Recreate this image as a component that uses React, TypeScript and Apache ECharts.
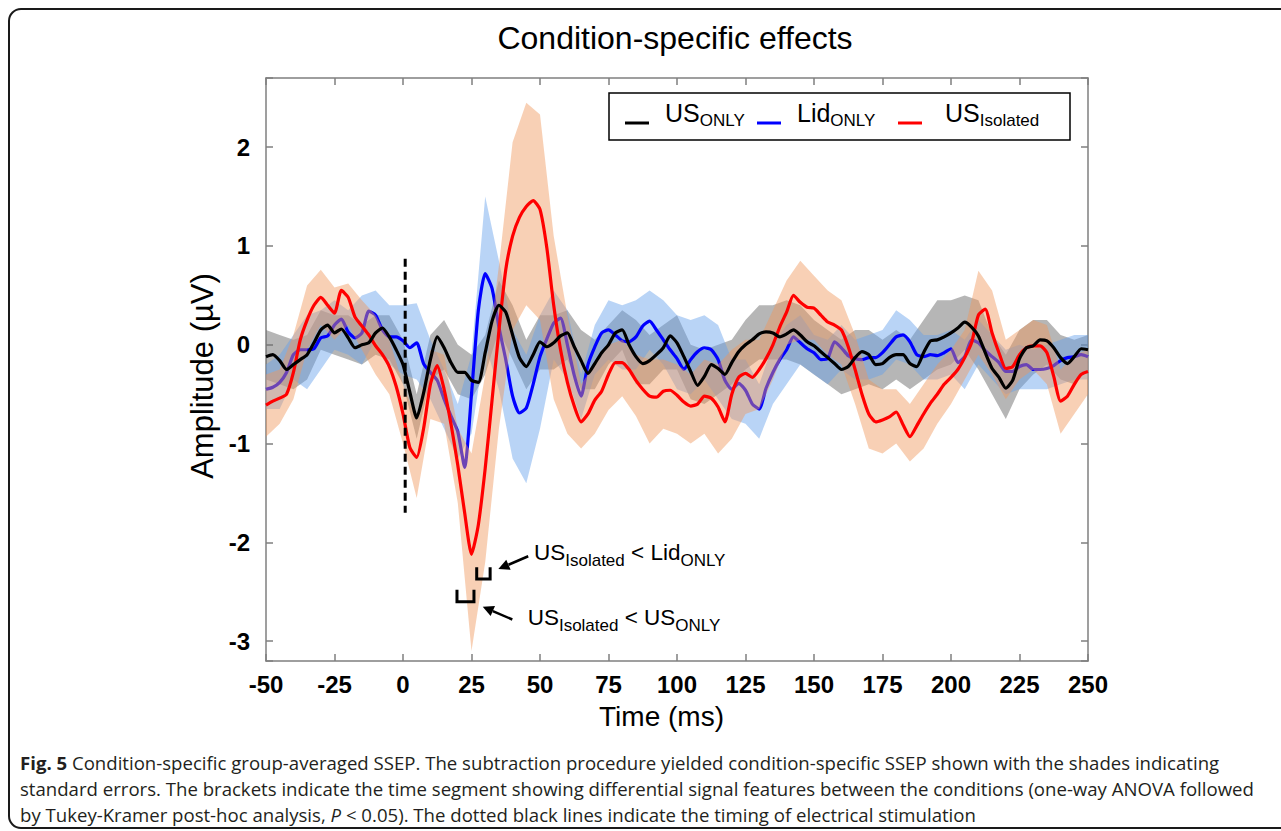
import React, { useEffect, useRef } from 'react';
import * as echarts from 'echarts';

const FONT = "'Liberation Sans', Arial, Helvetica, sans-serif";
const CAPTION_FONT = "'Open Sans', 'Noto Sans', sans-serif";
const AXIS_COLOR = '#7f7f7f';

// sampling grids (ms)
const times: number[] = Array.from({ length: 121 }, (_, i) => -50 + i * 2.5);
const bandTimes: number[] = Array.from({ length: 61 }, (_, i) => -50 + i * 5);

// group means (µV), one value per 2.5 ms
const usOnly = [
  -0.12, -0.10, -0.16, -0.25, -0.20, -0.15, -0.10, 0.02, 0.15, 0.20,
  0.12, 0.16, 0.07, -0.03, 0.00, 0.02, 0.12, 0.17, 0.08, -0.05,
  -0.20, -0.48, -0.74, -0.49, -0.15, 0.08, -0.03, -0.18, -0.28, -0.28,
  -0.36, -0.38, -0.08, 0.24, 0.40, 0.33, 0.10, -0.13, -0.22, -0.10,
  0.03, -0.02, 0.02, 0.09, 0.12, -0.02, -0.16, -0.29, -0.19, -0.08,
  0.00, 0.12, 0.15, 0.00, -0.12, -0.19, -0.16, -0.10, -0.03, 0.09,
  0.02, -0.12, -0.27, -0.41, -0.32, -0.20, -0.24, -0.30, -0.18, -0.07,
  0.00, 0.05, 0.11, 0.13, 0.12, 0.08, 0.11, 0.15, 0.10, 0.03,
  -0.01, -0.07, -0.13, -0.19, -0.25, -0.22, -0.13, -0.07, -0.10, -0.20,
  -0.19, -0.13, -0.10, -0.10, -0.19, -0.22, -0.08, 0.04, 0.05, 0.08,
  0.12, 0.17, 0.23, 0.18, 0.09, -0.08, -0.24, -0.33, -0.44, -0.36,
  -0.14, -0.03, -0.01, 0.05, 0.04, -0.03, -0.13, -0.19, -0.12, -0.04,
  -0.05,
];
const lidOnly = [
  -0.45, -0.43, -0.38, -0.28, -0.10, -0.05, -0.05, -0.04, 0.07, 0.09,
  0.20, 0.26, 0.13, 0.07, 0.12, 0.34, 0.30, 0.15, 0.08, 0.08,
  0.04, -0.03, 0.02, -0.19, -0.28, -0.36, -0.55, -0.72, -0.88, -1.24,
  -0.50, 0.35, 0.72, 0.57, 0.18, -0.15, -0.52, -0.69, -0.64, -0.40,
  -0.12, 0.06, 0.22, 0.27, 0.00, -0.31, -0.52, -0.20, -0.02, 0.12,
  0.15, 0.10, 0.04, 0.03, 0.08, 0.19, 0.24, 0.15, 0.05, -0.05,
  -0.14, -0.25, -0.15, -0.07, -0.03, -0.05, -0.15, -0.36, -0.45, -0.39,
  -0.46, -0.60, -0.65, -0.44, -0.28, -0.15, -0.05, 0.08, 0.02, -0.04,
  -0.08, -0.15, -0.14, 0.03, -0.03, -0.11, -0.14, -0.15, -0.13, -0.13,
  -0.08, 0.00, 0.08, 0.10, 0.03, -0.10, -0.12, -0.10, -0.11, -0.08,
  -0.04, -0.18, -0.12, 0.05, 0.02, -0.06, -0.12, -0.18, -0.27, -0.27,
  -0.22, -0.20, -0.25, -0.25, -0.24, -0.21, -0.16, -0.13, -0.12, -0.10,
  -0.12,
];
const usIsolated = [
  -0.61, -0.57, -0.54, -0.50, -0.28, 0.05, 0.25, 0.40, 0.48, 0.40,
  0.32, 0.55, 0.48, 0.28, 0.19, 0.10, -0.01, -0.10, -0.22, -0.42,
  -0.70, -1.04, -1.14, -0.85, -0.40, -0.21, -0.45, -0.80, -1.22, -1.70,
  -2.12, -1.82, -1.25, -0.56, 0.14, 0.76, 1.10, 1.29, 1.40, 1.46,
  1.37, 0.98, 0.40, -0.05, -0.38, -0.62, -0.78, -0.70, -0.56, -0.47,
  -0.30, -0.18, -0.18, -0.25, -0.36, -0.45, -0.52, -0.53, -0.47, -0.46,
  -0.51, -0.58, -0.62, -0.60, -0.52, -0.54, -0.63, -0.78, -0.50, -0.33,
  -0.29, -0.33, -0.25, -0.14, 0.00, 0.18, 0.33, 0.50, 0.43, 0.38,
  0.37, 0.30, 0.23, 0.20, 0.15, -0.02, -0.25, -0.50, -0.70, -0.78,
  -0.76, -0.73, -0.68, -0.81, -0.93, -0.82, -0.70, -0.59, -0.50, -0.40,
  -0.33, -0.25, -0.13, 0.02, 0.30, 0.36, 0.12, -0.08, -0.24, -0.22,
  -0.10, -0.03, -0.01, -0.01, -0.08, -0.32, -0.57, -0.52, -0.40, -0.30,
  -0.27,
];

// standard-error envelopes, one value per 5 ms
const usOnlyUpper = [
  0.15, 0.10, 0.05, 0.10, 0.35, 0.30, 0.30, 0.20, 0.30, 0.30,
  0.05, -0.50, 0.10, 0.25, 0.00, -0.10, 0.10, 0.65, 0.40, 0.05,
  0.30, 0.30, 0.35, 0.15, 0.05, 0.20, 0.35, 0.25, 0.10, 0.20,
  0.30, 0.00, -0.05, 0.00, 0.05, 0.25, 0.40, 0.40, 0.45, 0.40,
  0.25, 0.15, 0.05, 0.15, 0.15, 0.05, 0.15, 0.05, 0.25, 0.45,
  0.45, 0.50, 0.45, 0.10, -0.10, 0.15, 0.25, 0.25, 0.10, 0.05,
  0.10,
];
const usOnlyLower = [
  -0.35, -0.40, -0.45, -0.35, -0.05, -0.10, -0.15, -0.20, -0.10, -0.15,
  -0.40, -0.95, -0.35, -0.25, -0.50, -0.55, -0.30, 0.15, -0.15, -0.45,
  -0.25, -0.25, -0.15, -0.45, -0.45, -0.20, -0.05, -0.40, -0.40, -0.25,
  -0.25, -0.55, -0.60, -0.50, -0.40, -0.25, -0.15, -0.15, -0.15, -0.20,
  -0.30, -0.40, -0.50, -0.45, -0.40, -0.45, -0.35, -0.45, -0.35, -0.25,
  -0.20, -0.05, -0.25, -0.50, -0.75, -0.45, -0.30, -0.20, -0.35, -0.40,
  -0.25,
];
const lidOnlyUpper = [
  -0.20, -0.10, 0.10, 0.30, 0.35, 0.45, 0.35, 0.50, 0.55, 0.40,
  0.40, 0.42, 0.05, -0.25, -0.60, -0.10, 1.50, 0.85, 0.15, -0.10,
  0.30, 0.55, 0.35, -0.30, 0.20, 0.45, 0.40, 0.45, 0.55, 0.45,
  0.30, 0.25, 0.30, 0.20, -0.15, -0.15, -0.40, 0.00, 0.20, 0.30,
  0.10, 0.05, 0.20, 0.05, 0.10, 0.15, 0.35, 0.25, 0.10, 0.10,
  0.15, 0.05, 0.25, 0.10, -0.05, 0.00, -0.05, 0.00, 0.05, 0.10,
  0.10,
];
const lidOnlyLower = [
  -0.65, -0.65, -0.35, -0.45, -0.25, -0.05, -0.10, -0.20, 0.05, -0.20,
  -0.30, -0.35, -0.55, -0.85, -1.15, -0.90, 0.00, -0.45, -1.15, -1.40,
  -0.85, -0.15, -0.35, -0.75, -0.30, -0.15, -0.25, -0.25, -0.05, -0.20,
  -0.45, -0.50, -0.35, -0.55, -0.75, -0.80, -0.95, -0.60, -0.40, -0.20,
  -0.30, -0.40, -0.25, -0.35, -0.35, -0.30, -0.15, -0.20, -0.35, -0.35,
  -0.30, -0.45, -0.20, -0.35, -0.50, -0.45, -0.45, -0.45, -0.40, -0.35,
  -0.35,
];
const usIsolatedUpper = [
  -0.30, -0.25, 0.10, 0.60, 0.76, 0.58, 0.62, 0.45, 0.30, 0.05,
  -0.40, -0.75, -0.05, -0.10, -0.85, -1.10, -0.30, 0.80, 2.05, 2.45,
  2.33, 1.10, 0.30, -0.40, -0.20, 0.00, 0.05, -0.10, -0.15, -0.15,
  -0.20, -0.30, -0.15, -0.20, -0.05, 0.05, 0.05, 0.35, 0.65, 0.85,
  0.70, 0.55, 0.45, 0.10, -0.35, -0.45, -0.45, -0.60, -0.40, -0.20,
  -0.05, 0.15, 0.75, 0.55, 0.05, 0.15, 0.25, 0.20, -0.25, -0.10,
  -0.05,
];
const usIsolatedLower = [
  -0.93, -0.80, -0.55, -0.05, 0.20, 0.05, 0.20, -0.05, -0.30, -0.50,
  -1.00, -1.55, -0.75, -0.80, -1.60, -3.10, -2.20, -0.85, 0.15, 0.40,
  0.25, -0.55, -0.90, -1.05, -0.90, -0.66, -0.52, -0.72, -1.00, -0.85,
  -0.90, -1.00, -0.90, -1.10, -0.95, -0.70, -0.65, -0.35, 0.00, 0.05,
  0.05, -0.10, -0.20, -0.60, -1.05, -1.10, -1.00, -1.18, -1.05, -0.80,
  -0.60, -0.35, -0.10, -0.30, -0.55, -0.35, -0.25, -0.40, -0.90, -0.70,
  -0.50,
];

// stimulation marker
const stimTime = 0.8;
const stimTop = 0.87;
const stimBottom = -1.7;

// significance brackets (ms, µV)
const bracketStart = [26.9, 19.7];
const bracketEnd = [31.8, 25.9];
const bracketLow = [-2.37, -2.6];
const bracketHigh = [-2.25, -2.48];

// annotation arrows and labels (data coordinates)
const arrowTail = [[45.7, -2.14], [39.9, -2.78]];
const arrowTip = [[34.8, -2.27], [29.1, -2.65]];
const annotationAnchor = [[47.8, -2.099], [45.5, -2.758]];
const annotationText = [
  '{m|US}{s|Isolated}{m| < Lid}{s|ONLY}',
  '{m|US}{s|Isolated}{m| < US}{s|ONLY}',
];

// legend
const legendMain = ['US', 'Lid', 'US'];
const legendSub = ['ONLY', 'ONLY', 'Isolated'];
const seriesColors = ['#000000', '#0000ff', '#ff0000'];

const captionLines = [
  '{b|Fig. 5} Condition-specific group-averaged SSEP. The subtraction procedure yielded condition-specific SSEP shown with the shades indicating',
  'standard errors. The brackets indicate the time segment showing differential signal features between the conditions (one-way ANOVA followed',
  'by Tukey-Kramer post-hoc analysis, {i|P} < 0.05). The dotted black lines indicate the timing of electrical stimulation',
];

const zip = (xs: number[], ys: number[]) => xs.map((x, i) => [x, ys[i]]);

const makeBand = (upper: number[], lower: number[], fill: string) => (_params: any, api: any) => {
  const pts: number[][] = [];
  for (let i = 0; i < bandTimes.length; i++) pts.push(api.coord([bandTimes[i], upper[i]]));
  for (let i = bandTimes.length - 1; i >= 0; i--) pts.push(api.coord([bandTimes[i], lower[i]]));
  return { type: 'polygon', shape: { points: pts }, style: { fill } };
};

const richMain = (size: number) => ({ fontSize: size, fontFamily: FONT, fill: '#000' });

export default function App() {
  const ref = useRef<HTMLDivElement>(null);

  useEffect(() => {
    document.body.style.margin = '0';
    if (!ref.current) return;
    const chart = echarts.init(ref.current, undefined, { renderer: 'svg' });

    const axisLine = { show: true, onZero: false, lineStyle: { color: AXIS_COLOR, width: 1.5 } };
    const axisTick = { show: true, inside: true, length: 7, lineStyle: { color: AXIS_COLOR, width: 1.5 } };
    const tickLabel = { color: '#000', fontSize: 24, fontWeight: 'bold', fontFamily: FONT };
    const capSize = 18.6;
    const lineWidth = 3.2;

    const legendChildren: any[] = [
      {
        type: 'rect',
        shape: { x: 609, y: 93, width: 461, height: 47 },
        style: { fill: '#fff', stroke: '#000', lineWidth: 1.5 },
      },
    ];
    const legendLineX = [625, 757, 898];
    const legendTextX = [665, 797, 945];
    for (let i = 0; i < 3; i++) {
      legendChildren.push({
        type: 'line',
        shape: { x1: legendLineX[i], y1: 123, x2: legendLineX[i] + 24, y2: 123 },
        style: { stroke: seriesColors[i], lineWidth: 3 },
      });
      legendChildren.push({
        type: 'text',
        x: legendTextX[i],
        y: 113,
        style: {
          text: `{m|${legendMain[i]}}{s|${legendSub[i]}}`,
          align: 'left',
          verticalAlign: 'middle',
          rich: {
            m: richMain(25),
            s: { ...richMain(17), padding: [15.6, 0, 0, 0] },
          },
        },
      });
    }

    const option: any = {
      animation: false,
      backgroundColor: '#ffffff',
      grid: { left: 266, right: 193, top: 78, bottom: 170, containLabel: false },
      xAxis: [
        {
          type: 'value', min: -50, max: 250, interval: 25, position: 'bottom',
          name: 'Time (ms)', nameLocation: 'middle', nameGap: 41,
          nameTextStyle: { fontSize: 28, fontFamily: FONT, color: '#000', padding: [0, 31, 0, 0] },
          axisLine, axisTick,
          axisLabel: { ...tickLabel, margin: 11 },
          splitLine: { show: false },
        },
        {
          type: 'value', min: -50, max: 250, interval: 25, position: 'top',
          axisLine, axisTick, axisLabel: { show: false }, splitLine: { show: false },
        },
      ],
      yAxis: [
        {
          type: 'value', min: -3.2, max: 2.7, position: 'left',
          name: 'Amplitude (µV)', nameLocation: 'middle', nameGap: 33, nameRotate: 90,
          nameTextStyle: { fontSize: 31, fontFamily: FONT, color: '#000', padding: [0, 13, 0, 0] },
          axisLine, axisTick,
          axisLabel: {
            ...tickLabel, margin: 16,
            formatter: (v: number) => (Math.abs(v - Math.round(v)) < 1e-6 ? String(Math.round(v)) : ''),
          },
          splitLine: { show: false },
        },
        {
          type: 'value', min: -3.2, max: 2.7, position: 'right',
          axisLine, axisTick, axisLabel: { show: false }, splitLine: { show: false },
        },
      ],
      series: [
        {
          name: 'US_ONLY SE', type: 'custom', z: 1, silent: true, clip: true,
          renderItem: makeBand(usOnlyUpper, usOnlyLower, 'rgba(110,110,110,0.5)'),
          data: [[-50, 0]],
        },
        {
          name: 'Lid_ONLY SE', type: 'custom', z: 2, silent: true, clip: true,
          renderItem: makeBand(lidOnlyUpper, lidOnlyLower, 'rgba(100,160,235,0.45)'),
          data: [[-50, 0]],
        },
        {
          name: 'Lid_ONLY', type: 'line', z: 3, symbol: 'none', smooth: 0.2,
          data: zip(times, lidOnly), lineStyle: { color: seriesColors[1], width: lineWidth },
          itemStyle: { color: seriesColors[1] },
        },
        {
          name: 'US_Isolated SE', type: 'custom', z: 4, silent: true, clip: true,
          renderItem: makeBand(usIsolatedUpper, usIsolatedLower, 'rgba(240,150,90,0.45)'),
          data: [[-50, 0]],
        },
        {
          name: 'US_Isolated', type: 'line', z: 5, symbol: 'none', smooth: 0.2,
          data: zip(times, usIsolated), lineStyle: { color: seriesColors[2], width: lineWidth },
          itemStyle: { color: seriesColors[2] },
        },
        {
          name: 'US_ONLY', type: 'line', z: 6, symbol: 'none', smooth: 0.2,
          data: zip(times, usOnly), lineStyle: { color: seriesColors[0], width: lineWidth },
          itemStyle: { color: seriesColors[0] },
        },
        {
          name: 'Stimulation', type: 'line', z: 7, symbol: 'none',
          data: [[stimTime, stimTop], [stimTime, stimBottom]],
          lineStyle: { color: '#000', width: 3, type: [8, 5] },
        },
        {
          name: 'Brackets', type: 'custom', z: 8, silent: true,
          data: bracketStart.map((s, i) => [s, bracketLow[i], bracketEnd[i], bracketHigh[i]]),
          renderItem: (_p: any, api: any) => {
            const x1 = api.value(0), lo = api.value(1), x2 = api.value(2), hi = api.value(3);
            return {
              type: 'polyline',
              shape: { points: [api.coord([x1, hi]), api.coord([x1, lo]), api.coord([x2, lo]), api.coord([x2, hi])] },
              style: { stroke: '#000', lineWidth: 3, fill: 'none' },
            };
          },
        },
        {
          name: 'Arrows', type: 'custom', z: 8, silent: true,
          data: arrowTail.map((p, i) => [p[0], p[1], arrowTip[i][0], arrowTip[i][1]]),
          renderItem: (_p: any, api: any) => {
            const a = api.coord([api.value(0), api.value(1)]);
            const b = api.coord([api.value(2), api.value(3)]);
            const dx = b[0] - a[0], dy = b[1] - a[1];
            const len = Math.hypot(dx, dy) || 1;
            const ux = dx / len, uy = dy / len;
            const hl = 11, hw = 5.5;
            const bx = b[0] - ux * hl, by = b[1] - uy * hl;
            return {
              type: 'group',
              children: [
                { type: 'line', shape: { x1: a[0], y1: a[1], x2: bx, y2: by }, style: { stroke: '#000', lineWidth: 2.5 } },
                {
                  type: 'polygon',
                  shape: { points: [b, [bx - uy * hw, by + ux * hw], [bx + uy * hw, by - ux * hw]] },
                  style: { fill: '#000' },
                },
              ],
            };
          },
        },
        {
          name: 'Annotations', type: 'custom', z: 9, silent: true,
          data: annotationAnchor,
          renderItem: (params: any, api: any) => {
            const p = api.coord([api.value(0), api.value(1)]);
            return {
              type: 'text',
              x: p[0],
              y: p[1],
              style: {
                text: annotationText[params.dataIndex],
                align: 'left',
                verticalAlign: 'middle',
                rich: {
                  m: richMain(22.5),
                  s: { ...richMain(17), padding: [15.8, 0, 0, 0] },
                },
              },
            };
          },
        },
      ],
      graphic: [
        {
          type: 'rect', silent: true, z: 0,
          shape: { x: 9, y: 9, width: 1340, height: 819, r: 12 },
          style: { fill: 'none', stroke: '#1a1a1a', lineWidth: 2 },
        },
        {
          type: 'text', x: 675, y: 38,
          style: { text: 'Condition-specific effects', fontSize: 32, fontFamily: FONT, fill: '#000', align: 'center', verticalAlign: 'middle' },
        },
        { type: 'group', children: legendChildren },
        ...captionLines.map((line, i) => ({
          type: 'text', x: 20, y: 762 + i * 26,
          style: {
            text: line, fontSize: capSize, fontFamily: CAPTION_FONT, fill: '#231f20',
            align: 'left', verticalAlign: 'middle',
            rich: {
              b: { fontSize: capSize, fontFamily: CAPTION_FONT, fontWeight: 'bold', fill: '#231f20' },
              i: { fontSize: capSize, fontFamily: CAPTION_FONT, fontStyle: 'italic', fill: '#231f20' },
            },
          },
        })),
      ],
    };

    chart.setOption(option);
    return () => chart.dispose();
  }, []);

  return <div ref={ref} style={{ width: 1281, height: 831 }} />;
}
